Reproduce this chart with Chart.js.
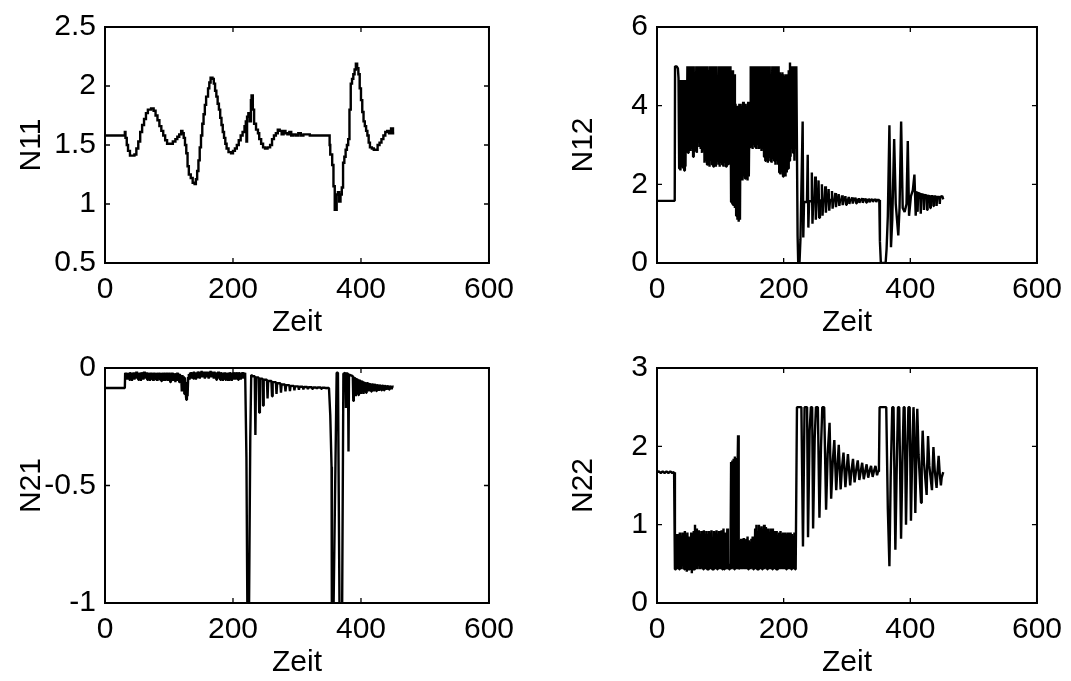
<!DOCTYPE html>
<html>
<head>
<meta charset="utf-8">
<script src="https://cdn.jsdelivr.net/npm/chart.js@4.4.1/dist/chart.umd.min.js"></script>
<style>
html,body{margin:0;padding:0;background:#fff;overflow:hidden;width:1071px;height:681px;}
canvas{position:absolute;}
</style>
</head>
<body>
<canvas id="c11"></canvas>
<canvas id="c12"></canvas>
<canvas id="c21"></canvas>
<canvas id="c22"></canvas>
<script>
// ---------- data ----------
const xTicks = [0, 200, 400, 600];
const n11Ticks = [0.5, 1, 1.5, 2, 2.5];
const n12Ticks = [0, 2, 4, 6];
const n21Ticks = [-1, -0.5, 0];
const n22Ticks = [0, 1, 2, 3];

const n11Data = [[0,1.58],[31,1.61],[32,1.56],[34,1.50],[36,1.45],[39,1.41],[46,1.42],[49,1.47],[52,1.53],[55,1.61],[58,1.67],[61,1.72],[64,1.77],[67,1.80],[72,1.81],[76,1.79],[79,1.75],[82,1.71],[85,1.66],[88,1.62],[91,1.58],[94,1.54],[97,1.51],[102,1.51],[106,1.53],[110,1.55],[113,1.57],[116,1.59],[119,1.62],[121,1.60],[123,1.56],[125,1.50],[127,1.43],[129,1.32],[131,1.25],[134,1.22],[137,1.18],[140,1.17],[142,1.21],[144,1.28],[146,1.37],[148,1.48],[150,1.58],[152,1.68],[154,1.76],[156,1.84],[158,1.91],[161,1.98],[163,2.03],[165,2.07],[168,2.06],[170,2.02],[172,1.96],[174,1.91],[176,1.85],[178,1.80],[180,1.73],[182,1.67],[184,1.61],[186,1.56],[188,1.51],[190,1.47],[193,1.44],[197,1.43],[200,1.45],[203,1.47],[206,1.50],[209,1.54],[212,1.58],[215,1.61],[218,1.66],[220,1.70],[221,1.53],[222,1.74],[224,1.77],[226,1.70],[228,1.88],[229,1.92],[231,1.80],[233,1.68],[236,1.63],[239,1.60],[241,1.55],[244,1.51],[247,1.48],[250,1.47],[254,1.48],[258,1.50],[261,1.55],[264,1.58],[267,1.60],[270,1.63],[273,1.62],[276,1.59],[279,1.62],[282,1.60],[285,1.59],[288,1.61],[291,1.58],[294,1.59],[298,1.58],[302,1.60],[306,1.58],[310,1.59],[315,1.59],[320,1.58],[330,1.58],[351,1.50],[352,1.42],[355,1.33],[357,1.15],[359,0.95],[362,1.08],[364,1.10],[366,1.02],[368,1.08],[370,1.14],[372,1.35],[374,1.40],[376,1.46],[378,1.50],[380,1.55],[382,1.80],[384,2.02],[386,2.06],[388,2.10],[390,2.14],[392,2.19],[394,2.15],[396,2.10],[398,1.98],[400,1.88],[402,1.78],[404,1.70],[406,1.66],[408,1.62],[410,1.58],[412,1.52],[414,1.48],[417,1.47],[420,1.46],[423,1.46],[426,1.50],[429,1.52],[432,1.55],[435,1.58],[438,1.61],[441,1.62],[444,1.60],[447,1.64],[450,1.60],[452,1.60]];

const n12Data = [[0,1.58],[28,1.58],[28.5,5.0],[31,5.0],[33,4.95],[34,4.7],
[35,2.4],[36,4.65],[37,2.35],[38,4.65],[39,2.45],[40,4.6],[41,2.4],[42,4.65],[43,2.35],[44,4.65],[45,2.45],[46,4.6],
[47,2.9],[48,5.0],[49,2.8],[50,5.0],[51,2.95],[52,5.0],[53,2.85],[54,5.0],[55,2.9],[56,5.0],[57,2.7],[58,5.0],[59,2.85],[60,4.3],[61,2.9],[62,5.0],[63,2.8],[64,5.0],[65,3.4],[66,5.0],[67,2.95],[68,5.0],[69,2.9],[70,5.0],[71,2.8],[72,5.0],[73,2.9],
[74,5.0],[75,2.55],[76,5.0],[77,2.6],[78,5.0],[79,2.5],[80,5.0],[81,2.55],[82,4.9],[83,2.45],[84,5.0],[85,2.6],[86,5.0],[87,2.5],[88,5.0],[89,2.45],[90,5.0],[91,2.55],[92,5.0],[93,2.45],[94,5.0],[95,2.6],[96,4.4],[97,2.5],[98,5.0],[99,2.45],[100,5.0],[101,2.55],[102,5.0],[103,2.5],[104,5.0],[105,2.45],[106,5.0],[107,2.55],[108,5.0],[109,2.45],[110,5.0],[111,2.5],[112,5.0],[113,2.55],[114,5.0],[115,2.5],[116,5.0],
[117,1.55],[118,4.9],[119,1.5],[120,4.9],[121,1.45],[122,4.8],[123,1.4],[124,4.05],[125,1.2],[126,4.0],[127,1.1],[128,4.0],[129,1.05],[130,4.05],[131,1.1],
[132,4.05],[133,2.2],[134,4.0],[135,2.1],[136,4.1],[137,2.2],[138,4.0],[139,2.15],[140,4.05],[141,2.2],[142,4.0],[143,2.1],[144,4.1],[145,2.2],[146,4.0],
[147,2.95],[148,5.0],[149,3.0],[150,5.0],[151,2.9],[152,5.0],[153,3.0],[154,5.0],[155,2.95],[156,5.0],[157,2.9],[158,5.0],[159,3.0],[160,5.0],[161,2.9],[162,5.0],[163,2.95],[164,5.0],[165,2.85],[166,5.0],[167,2.9],[168,5.0],
[169,2.7],[170,5.0],[171,2.6],[172,5.0],[173,2.65],[174,5.0],[175,2.55],[176,5.0],[177,2.7],[178,5.0],[179,2.6],[180,4.5],[181,2.55],[182,5.0],[183,2.65],[184,5.0],[185,2.6],[186,5.0],[187,2.5],[188,5.0],[189,2.6],[190,5.0],[191,2.5],[192,5.0],
[193,2.3],[194,4.85],[195,2.25],[196,4.8],[197,2.3],[198,4.85],[199,2.2],[200,4.8],[201,2.25],[202,4.75],[203,2.2],[204,4.8],[205,2.3],[206,4.7],[207,2.4],[208,4.9],
[209,2.6],[210,5.1],[211,2.7],[212,5.0],[213,2.9],[214,5.0],[215,2.8],[216,5.0],[217,2.6],[218,5.0],[219,2.9],[220,5.0],
[222,0.7],[223,0.0],[225,0.0],[226.5,0.6],
[230,3.6],[231,0.65],[232.2,1.55],
[236.8,1.55],[238,2.75],[239,0.9],[240.2,1.57],
[243.3,1.57],[244.5,2.3],[245.5,1.0],[246.7,1.58],
[248.6,1.58],[249.8,2.2],[250.8,1.1],[252,1.58],
[253.9,1.58],[255.1,2.1],[256.1,1.15],[257.3,1.59],
[259.2,1.59],[260.4,2.0],[261.4,1.2],[262.6,1.59],
[264.5,1.59],[265.7,1.95],[266.7,1.28],[267.9,1.59],
[269.8,1.59],[271,1.88],[272,1.33],[273.2,1.6],
[275.1,1.6],[276.3,1.83],[277.3,1.38],[278.5,1.6],
[280.4,1.6],[281.6,1.78],[282.6,1.42],[283.8,1.6],
[285.7,1.6],[286.9,1.75],[287.9,1.45],[289.1,1.6],
[291,1.6],[292.2,1.72],[293.2,1.47],[294.4,1.6],
[296.3,1.6],[297.5,1.7],[298.5,1.48],[299.7,1.6],
[301.6,1.6],[302.8,1.68],[303.8,1.5],[305,1.6],
[306.9,1.6],[308.1,1.67],[309.1,1.51],[310.3,1.6],
[312.2,1.6],[313.4,1.66],[314.4,1.52],[315.6,1.6],
[317.5,1.6],[318.7,1.65],[319.7,1.53],[320.9,1.6],
[322.8,1.6],[324,1.65],[325,1.53],[326.2,1.6],
[328.1,1.6],[329.3,1.64],[330.3,1.54],[331.5,1.6],
[333.4,1.6],[334.6,1.64],[335.6,1.54],[336.8,1.6],
[338.7,1.6],[339.9,1.63],[340.9,1.55],[342.1,1.6],
[344,1.6],[345.2,1.63],[346.2,1.55],[347.4,1.6],
[351,1.6],
[352,0.55],[353.5,0.0],[361,0.0],[362.5,0.35],[364.5,1.2],[367,3.5],[369.5,0.4],[371.5,1.1],[374.5,3.15],[377,1.5],[381,0.7],[383,1.4],[385.5,3.6],[388,1.4],[391,1.3],[394,1.5],[396,3.1],[398,1.2],[401,1.7],[404,1.85],[406.5,2.25],[408.5,1.2],[410,1.8],
[410.7,1.8],[411.5,1.3],[412.3,1.78],
[415.7,1.76],[416.5,1.25],[417.3,1.75],
[420.7,1.74],[421.5,1.35],[422.3,1.73],
[425.7,1.72],[426.5,1.35],[427.3,1.71],
[430.7,1.7],[431.5,1.4],[432.3,1.7],
[435.7,1.7],[436.5,1.45],[437.3,1.69],
[440.7,1.69],[441.5,1.45],[442.3,1.68],
[445.7,1.68],[446.5,1.5],[447.3,1.68],
[450.5,1.7],[452,1.62]];

const n21Data = [[0,-0.085],[31,-0.085],[31.5,-0.02],
[32,-0.045],[33,-0.02],[34,-0.05],[35,-0.022],[36,-0.04],[37,-0.02],[38,-0.05],[39,-0.018],[40,-0.045],[41,-0.022],[42,-0.055],[43,-0.02],[44,-0.04],[45,-0.018],[46,-0.05],[47,-0.02],[48,-0.045],[49,-0.015],[50,-0.04],[51,-0.02],[52,-0.05],[53,-0.022],[54,-0.045],[55,-0.02],[56,-0.055],[57,-0.018],[58,-0.04],[59,-0.02],[60,-0.05],[61,-0.015],[62,-0.045],[63,-0.02],[64,-0.04],[65,-0.018],[66,-0.05],[67,-0.02],[68,-0.045],[69,-0.022],[70,-0.055],[71,-0.02],[72,-0.045],[73,-0.02],[74,-0.05],[75,-0.025],[76,-0.055],[77,-0.02],[78,-0.045],[79,-0.022],[80,-0.05],[81,-0.02],[82,-0.055],[83,-0.025],[84,-0.045],[85,-0.02],[86,-0.05],[87,-0.022],[88,-0.055],[89,-0.02],[90,-0.045],[91,-0.025],[92,-0.055],[93,-0.02],[94,-0.05],[95,-0.022],[96,-0.045],[97,-0.02],[98,-0.055],[99,-0.025],[100,-0.05],[101,-0.02],[102,-0.06],[103,-0.025],[104,-0.05],[105,-0.02],[106,-0.055],[107,-0.025],[108,-0.05],[109,-0.022],[110,-0.06],[111,-0.025],[112,-0.05],[113,-0.02],[114,-0.055],[115,-0.025],[116,-0.06],[117,-0.025],[118,-0.05],[119,-0.03],[120,-0.1],[121,-0.03],[122,-0.09],[123,-0.035],[124,-0.11],[125,-0.04],[126,-0.1],[127,-0.135],[128,-0.06],[129,-0.12],[130,-0.04],
[131,-0.025],[132,-0.05],[133,-0.02],[134,-0.045],[135,-0.018],[136,-0.04],[137,-0.02],[138,-0.045],[139,-0.015],[140,-0.04],[141,-0.02],[142,-0.05],[143,-0.018],[144,-0.04],[145,-0.015],[146,-0.035],[147,-0.02],[148,-0.045],[149,-0.015],[150,-0.04],[151,-0.012],[152,-0.035],[153,-0.018],[154,-0.04],[155,-0.015],[156,-0.045],[157,-0.018],[158,-0.035],[159,-0.015],[160,-0.04],[161,-0.02],[162,-0.045],[163,-0.015],[164,-0.04],[165,-0.012],[166,-0.035],[167,-0.015],[168,-0.04],[169,-0.02],[170,-0.045],[171,-0.015],[172,-0.04],[173,-0.018],[174,-0.05],[175,-0.02],[176,-0.045],[177,-0.015],[178,-0.04],[179,-0.02],[180,-0.05],[181,-0.018],[182,-0.045],[183,-0.02],[184,-0.055],[185,-0.02],[186,-0.045],[187,-0.018],[188,-0.05],[189,-0.02],[190,-0.045],[191,-0.022],[192,-0.055],[193,-0.02],[194,-0.05],[195,-0.018],[196,-0.045],[197,-0.02],[198,-0.055],[199,-0.022],[200,-0.05],[201,-0.018],[202,-0.045],[203,-0.02],[204,-0.05],[205,-0.018],[206,-0.045],[207,-0.02],[208,-0.05],[209,-0.018],[210,-0.045],[211,-0.02],[212,-0.05],[213,-0.02],[214,-0.045],[215,-0.018],[216,-0.04],[217,-0.02],[218,-0.045],[219,-0.02],[220,-0.02],
[221,-0.38],[222.5,-1.05],[225,-1.05],[227,-0.3],[228.5,-0.03],[231,-0.035],
[234,-0.035],[235,-0.285],[236,-0.04],
[240,-0.04],[241,-0.19],[242,-0.045],
[246,-0.045],[247,-0.16],[248,-0.05],
[253,-0.05],[254,-0.13],[255,-0.055],
[260,-0.055],[261,-0.12],[262,-0.06],
[267,-0.06],[268,-0.11],[269,-0.065],
[274,-0.065],[275,-0.105],[276,-0.07],
[281,-0.07],[282,-0.1],[283,-0.073],
[288,-0.073],[289,-0.098],[290,-0.076],
[295,-0.076],[296,-0.095],[297,-0.078],
[302,-0.078],[303,-0.093],[304,-0.08],
[309,-0.08],[310,-0.091],[311,-0.081],
[316,-0.081],[317,-0.09],[318,-0.082],
[323,-0.082],[324,-0.089],[325,-0.083],
[330,-0.083],[331,-0.088],[332,-0.083],
[337,-0.083],[338,-0.088],[339,-0.084],
[344,-0.084],[345,-0.087],[346,-0.085],
[350,-0.085],
[352,-0.2],[354,-0.42],[354.5,-1.05],[357,-1.05],[362,-0.02],[364,-0.02],[366.5,-1.05],[370.5,-1.05],[372.5,-0.025],
[375.7,-0.02],[376.5,-0.17],[377.3,-0.022],
[379.7,-0.025],[380.5,-0.355],[381.3,-0.028],
[387.2,-0.035],[388,-0.14],[388.8,-0.04],
[391.2,-0.045],[392,-0.12],[392.8,-0.047],
[395.2,-0.05],[396,-0.115],[396.8,-0.052],
[399.2,-0.055],[400,-0.11],[400.8,-0.057],
[403.2,-0.06],[404,-0.11],[404.8,-0.062],
[407.2,-0.065],[408,-0.105],[408.8,-0.065],
[411.2,-0.065],[412,-0.1],[412.8,-0.068],
[415.2,-0.07],[416,-0.1],[416.8,-0.07],
[419.2,-0.07],[420,-0.1],[420.8,-0.071],
[423.2,-0.072],[424,-0.098],[424.8,-0.073],
[427.2,-0.074],[428,-0.097],[428.8,-0.074],
[431.2,-0.075],[432,-0.095],[432.8,-0.075],
[435.2,-0.076],[436,-0.095],[436.8,-0.076],
[439.2,-0.077],[440,-0.093],[440.8,-0.077],
[443.2,-0.078],[444,-0.092],[444.8,-0.078],
[447.2,-0.079],[448,-0.09],[448.8,-0.079],
[451,-0.08]];

const n22Data = [[0,1.67],[3,1.68],[6,1.66],[9,1.68],[12,1.66],[15,1.68],[18,1.66],[21,1.68],[24,1.66],[27,1.67],[28.3,0.43],
[29,0.43],[30,0.85],[31,0.43],[32,0.88],[33,0.43],[34,0.8],[35,0.43],[36,0.9],[37,0.45],[38,0.85],[39,0.43],[40,0.9],[41,0.5],[42,0.82],[43,0.43],[44,0.92],[45,0.43],[46,0.78],[47,0.4],[48,0.9],[49,0.43],[50,0.85],[51,0.43],[52,0.7],[53,0.43],[54,0.9],[55,0.38],[56,0.88],[57,0.43],[58,0.92],[59,0.43],[60,1.0],[61,0.43],[62,0.95],[63,0.43],[64,0.9],[65,0.5],[66,0.93],[67,0.43],[68,0.88],[69,0.43],[70,0.92],[71,0.45],[72,0.9],[73,0.43],[74,0.93],[75,0.43],[76,0.85],[77,0.43],[78,0.92],[79,0.43],[80,0.88],[81,0.43],[82,0.92],[83,0.43],[84,0.9],[85,0.43],[86,0.93],[87,0.43],[88,0.7],[89,0.43],[90,0.92],[91,0.43],[92,0.9],[93,0.43],[94,0.93],[95,0.43],[96,0.88],[97,0.43],[98,0.92],[99,0.43],[100,0.9],[101,0.43],[102,0.93],[103,0.43],[104,0.55],[105,0.95],[106,0.43],[107,0.9],[108,0.43],[109,0.5],[110,0.45],[111,0.95],[112,0.43],[113,0.5],[114,0.43],[115,0.45],[116,0.43],
[117,1.8],[118,0.43],[119,1.82],[120,0.45],[121,1.84],[122,0.43],[123,1.87],[124,0.5],[125,1.85],[126,0.43],[127,1.6],[128,2.14],[129,0.43],[130,0.45],
[131,0.8],[132,0.43],[133,0.82],[134,0.43],[135,0.78],[136,0.45],[137,0.83],[138,0.43],[139,0.8],[140,0.43],[141,0.82],[142,0.43],[143,0.85],[144,0.43],[145,0.8],[146,0.43],[147,0.75],[148,0.43],[149,0.82],[150,0.45],[151,0.85],[152,0.43],[153,0.7],[154,0.43],[155,0.95],[156,0.43],[157,1.0],[158,0.43],[159,0.92],[160,0.43],[161,1.0],[162,0.45],[163,0.95],[164,0.43],[165,0.98],[166,0.43],[167,0.9],[168,0.43],[169,1.0],[170,0.43],[171,0.97],[172,0.45],[173,0.93],[174,0.43],[175,0.95],[176,0.43],[177,0.65],[178,0.43],[179,0.95],[180,0.43],[181,0.9],[182,0.43],[183,0.95],[184,0.5],[185,0.92],[186,0.43],[187,0.88],[188,0.43],[189,0.92],[190,0.43],[191,0.85],[192,0.43],[193,0.9],[194,0.43],[195,0.92],[196,0.45],[197,0.88],[198,0.43],[199,0.9],[200,0.43],[201,0.86],[202,0.43],[203,0.9],[204,0.43],[205,0.88],[206,0.45],[207,0.9],[208,0.43],[209,0.85],[210,0.43],[211,0.9],[212,0.43],[213,0.88],[214,0.43],[215,0.85],[216,0.43],[217,0.9],[218,0.43],[219,0.45],
[221,2.5],[228,2.5],[230.5,0.72],[233,2.5],[237,2.5],[238.5,0.84],[241,2.2],[243,2.5],[245,2.5],[246.5,0.95],[249,2.1],[251,2.5],[254,2.5],[256.5,1.09],[259,2.0],[261,2.5],[264,2.5],[267,1.19],[269.5,1.9],[272.5,2.3],[275,1.33],[277.5,1.8],[280,2.08],[283,1.44],[285,1.75],[287,2.02],[290,1.45],[292,1.72],[294.5,1.92],[297.5,1.48],[299.5,1.7],[301.5,1.9],[305,1.5],[307,1.68],[309.5,1.84],[312,1.54],[314,1.67],[317,1.82],[319.5,1.57],[321.5,1.67],[324,1.79],[326.5,1.58],[328.5,1.67],[331,1.77],[333.5,1.6],[335.5,1.68],[338,1.75],[340.5,1.61],[342.5,1.68],[345,1.75],[347.5,1.63],[349,1.68],[350.5,1.74],
[351.5,2.5],[362,2.5],[364.5,1.2],[367,0.47],[369,1.6],[371.5,2.5],[373.5,2.5],[376.4,0.68],[378.5,1.7],[380.5,2.5],[382.5,2.5],[385.4,0.82],[387.5,1.8],[389.5,2.5],[391,2.5],[393.2,1.0],[395,1.85],[397,2.5],[399,2.5],[401,1.05],[403,1.9],[405,2.5],[406,2.3],[407.9,1.15],[409.5,1.85],[411,2.48],[413,1.9],[416.9,1.28],[418,1.8],[419.5,2.2],[421.5,1.8],[425.8,1.38],[426.5,1.7],[428,2.13],[430,1.75],[434.2,1.44],[435,1.66],[436.5,1.99],[438.5,1.7],[441.5,1.47],[442.5,1.62],[444.7,1.88],[446.5,1.65],[448.3,1.5],[449.5,1.6],[452,1.67]];

// ---------- layout ----------
const FONT = {family: "'Liberation Sans', Arial, Helvetica, sans-serif", size: 30};
const YW = 105, PT = 20, PR = 33, XH = 78;

const boxPlugin = {
  id: 'matlabBox',
  afterDraw(chart) {
    const {ctx, chartArea: {left, top, right, bottom}, scales: {x, y}} = chart;
    ctx.save();
    ctx.strokeStyle = '#000';
    ctx.lineWidth = 1.3;
    const tl = 5;
    ctx.beginPath();
    x.ticks.forEach(t => {
      const px = x.getPixelForValue(t.value);
      ctx.moveTo(px, bottom); ctx.lineTo(px, bottom - tl);
      ctx.moveTo(px, top); ctx.lineTo(px, top + tl);
    });
    y.ticks.forEach(t => {
      const py = y.getPixelForValue(t.value);
      ctx.moveTo(left, py); ctx.lineTo(left + tl, py);
      ctx.moveTo(right, py); ctx.lineTo(right - tl, py);
    });
    ctx.stroke();
    ctx.lineWidth = 2;
    ctx.strokeRect(left, top, right - left, bottom - top);
    ctx.restore();
  }
};

function makeChart(id, rect, data, yTicks, yLabel, stepped) {
  const cv = document.getElementById(id);
  const w = YW + rect.w + PR, h = PT + rect.h + XH;
  cv.width = w; cv.height = h;
  cv.style.left = (rect.l - YW) + 'px';
  cv.style.top = (rect.t - PT) + 'px';
  cv.style.width = w + 'px'; cv.style.height = h + 'px';
  return new Chart(cv, {
    type: 'line',
    data: {
      datasets: [{
        data: data.map(p => ({x: p[0], y: p[1]})),
        borderColor: '#000',
        borderWidth: 2.4,
        pointRadius: 0,
        fill: false,
        tension: 0,
        stepped: stepped,
        borderJoinStyle: stepped ? 'miter' : 'bevel'
      }]
    },
    options: {
      responsive: false,
      animation: false,
      devicePixelRatio: 1,
      layout: {padding: {top: PT, right: PR, left: 0, bottom: 0}},
      plugins: {legend: {display: false}, tooltip: {enabled: false}},
      scales: {
        x: {
          type: 'linear', min: xTicks[0], max: xTicks[xTicks.length - 1],
          afterBuildTicks: s => { s.ticks = xTicks.map(v => ({value: v})); },
          afterFit: s => { s.height = XH; },
          grid: {display: false, drawTicks: false},
          border: {display: false},
          ticks: {font: FONT, color: '#000', padding: 9, maxRotation: 0, autoSkip: false, callback: v => String(v)},
          title: {display: true, text: 'Zeit', font: FONT, color: '#000', padding: {top: 0, bottom: 0}}
        },
        y: {
          type: 'linear', min: yTicks[0], max: yTicks[yTicks.length - 1],
          afterBuildTicks: s => { s.ticks = yTicks.map(v => ({value: v})); },
          afterFit: s => { s.width = YW; },
          grid: {display: false, drawTicks: false},
          border: {display: false},
          ticks: {font: FONT, color: '#000', padding: 9, autoSkip: false, callback: v => String(v)},
          title: {display: true, text: yLabel, font: FONT, color: '#000', padding: {top: 14, bottom: 0}}
        }
      }
    },
    plugins: [boxPlugin]
  });
}

makeChart('c11', {l: 105, t: 20, w: 385, h: 243}, n11Data, n11Ticks, 'N11', true);
makeChart('c12', {l: 657, t: 20, w: 381, h: 243}, n12Data, n12Ticks, 'N12', false);
makeChart('c21', {l: 105, t: 361, w: 385, h: 242}, n21Data, n21Ticks, 'N21', false);
makeChart('c22', {l: 657, t: 361, w: 381, h: 242}, n22Data, n22Ticks, 'N22', false);
</script>
</body>
</html>
